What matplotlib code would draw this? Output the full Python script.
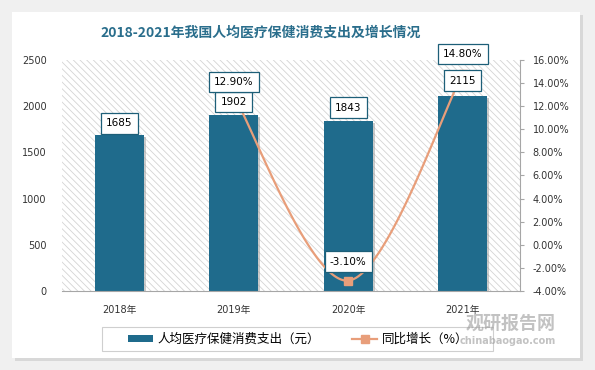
import numpy as np
import matplotlib
matplotlib.use("Agg")
import matplotlib.pyplot as plt
from matplotlib.patches import Rectangle, FancyBboxPatch
from matplotlib.lines import Line2D
import matplotlib.patheffects as pe

plt.rcParams['font.family'] = ['DejaVu Sans', 'Noto Sans CJK SC']
plt.rcParams['hatch.linewidth'] = 0.6
plt.rcParams['hatch.color'] = '#d4d4d4'

# data
years = ['2018年', '2019年', '2020年', '2021年']
spend = [1685, 1902, 1843, 2115]
growth_years = [1, 2, 3]          # index into years (2019-2021)
growth = [12.9, -3.1, 14.8]

bar_color = '#1f6b8c'
line_color = '#e89e7a'
label_edge = '#1d5f78'

W, H = 595, 370
fig = plt.figure(figsize=(W / 100, H / 100), dpi=100)
fig.patch.set_facecolor('#f0f0f0')

# white card with soft shadow
card = FancyBboxPatch((12 / W, 12 / H), 568 / W, 346 / H, boxstyle='square,pad=0',
                      transform=fig.transFigure, facecolor='white', edgecolor='none', zorder=-5,
                      path_effects=[pe.SimplePatchShadow(offset=(2, -2), shadow_rgbFace='#c8c8c8', alpha=0.6),
                                    pe.Normal()])
fig.patches.append(card)

ax = fig.add_axes([62 / W, (H - 291) / H, 458 / W, 231 / H])
ax.set_facecolor('none')
ax.add_patch(Rectangle((0, 0), 1, 1, transform=ax.transAxes, facecolor='white',
                       edgecolor='#d4d4d4', hatch='\\\\\\\\\\', lw=0, zorder=0))

x = np.arange(len(years))
bars = ax.bar(x, spend, width=0.43, color=bar_color, zorder=2,
              path_effects=[pe.SimplePatchShadow(offset=(1.5, -1.5), shadow_rgbFace='#999999', alpha=0.5),
                            pe.Normal()])
ax.set_xlim(-0.5, len(years) - 0.5)
ax.set_ylim(0, 2500)
ax.set_yticks(range(0, 2501, 500))
ax.set_xticks(x)
ax.set_xticklabels(years)
ax.tick_params(axis='both', length=0, labelsize=7, colors='#333333')
ax.tick_params(axis='y', pad=11)
ax.tick_params(axis='x', pad=10)
for s in ['top', 'right', 'left']:
    ax.spines[s].set_visible(False)
ax.spines['bottom'].set_color('#a6a6a6')

# right axis, smoothed growth line
ax2 = ax.twinx()
ax2.set_ylim(-4, 16)
ax2.set_yticks(np.arange(-4, 16.1, 2))
ax2.set_yticklabels(['%.2f%%' % t for t in np.arange(-4, 16.1, 2)])
ax2.tick_params(axis='y', direction='out', length=3, pad=6, labelsize=7, colors='#333333', color='#a6a6a6')
for s in ['top', 'left', 'bottom']:
    ax2.spines[s].set_visible(False)
ax2.spines['right'].set_color('#a6a6a6')

# Catmull-Rom smoothing in pixel-like space (like Excel smoothed line)
sx, sy = 114.5, 231 / 20
P = np.array([[gx * sx, gy * sy] for gx, gy in zip(growth_years, growth)])
pts = np.vstack([P[0], P, P[-1]])
curve = []
for i in range(1, len(pts) - 2):
    p0, p1, p2, p3 = pts[i - 1], pts[i], pts[i + 1], pts[i + 2]
    c1 = p1 + (p2 - p0) / 6
    c2 = p2 - (p3 - p1) / 6
    t = np.linspace(0, 1, 60)[:, None]
    seg = (1 - t) ** 3 * p1 + 3 * (1 - t) ** 2 * t * c1 + 3 * (1 - t) * t ** 2 * c2 + t ** 3 * p2
    curve.append(seg)
curve = np.vstack(curve)
ax2.plot(curve[:, 0] / sx, curve[:, 1] / sy, color=line_color, lw=1.6, zorder=3)
ax2.plot(growth_years, growth, ls='none', marker='s', ms=6, color=line_color, zorder=3)

# all data labels sit on ax2 so they cover the line
box = dict(boxstyle='square,pad=0.5', facecolor='white', edgecolor=label_edge, lw=0.9)
bar_offsets = [12, 13, 13, 15]
for xi, v, off in zip(x, spend, bar_offsets):
    ax2.annotate(str(v), (xi, v), xycoords=ax.transData, xytext=(0, off), textcoords='offset pixels',
                 ha='center', va='center', fontsize=7.5, bbox=box, zorder=6)

line_offsets = [14, 19, 20]
for gx, gv, off in zip(growth_years, growth, line_offsets):
    ax2.annotate('%.2f%%' % gv, (gx, gv), xytext=(0, off), textcoords='offset pixels',
                 ha='center', va='center', fontsize=7.5, bbox=box, zorder=6)

fig.text(261 / W, 1 - 33 / H, '2018-2021年我国人均医疗保健消费支出及增长情况',
         ha='center', va='center', fontsize=10, fontweight='bold', color='#2a6e8c',
         family=['Noto Sans CJK SC'])

# legend with a hand-placed frame
fig.patches.append(Rectangle((102 / W, 1 - 351 / H), 391 / W, 24 / H, transform=fig.transFigure,
                             facecolor='white', edgecolor='#cfcfcf', lw=0.8, zorder=1))
handles = [Rectangle((0, 0), 1, 1, facecolor=bar_color),
           Line2D([], [], color=line_color, marker='s', ms=6, lw=1.6)]
leg = fig.legend(handles, ['人均医疗保健消费支出（元）', '同比增长（%）'], ncol=2,
                 loc='center', bbox_to_anchor=(298 / W, 1 - 339 / H), frameon=False,
                 prop={'family': ['Noto Sans CJK SC'], 'size': 9},
                 handlelength=2.0, handleheight=0.5, columnspacing=2.6, handletextpad=0.35)

# watermark
fig.text(556 / W, 1 - 323 / H, '观研报告网', ha='right', va='center', fontsize=13,
         fontweight='bold', color='#9a9a9a', alpha=0.6, family=['Noto Sans CJK SC'])
fig.text(556 / W, 1 - 341 / H, 'chinabaogao.com', ha='right', va='center', fontsize=7,
         fontweight='bold', color='#9a9a9a', alpha=0.6)

fig.savefig('out.png', dpi=100, facecolor=fig.get_facecolor())
